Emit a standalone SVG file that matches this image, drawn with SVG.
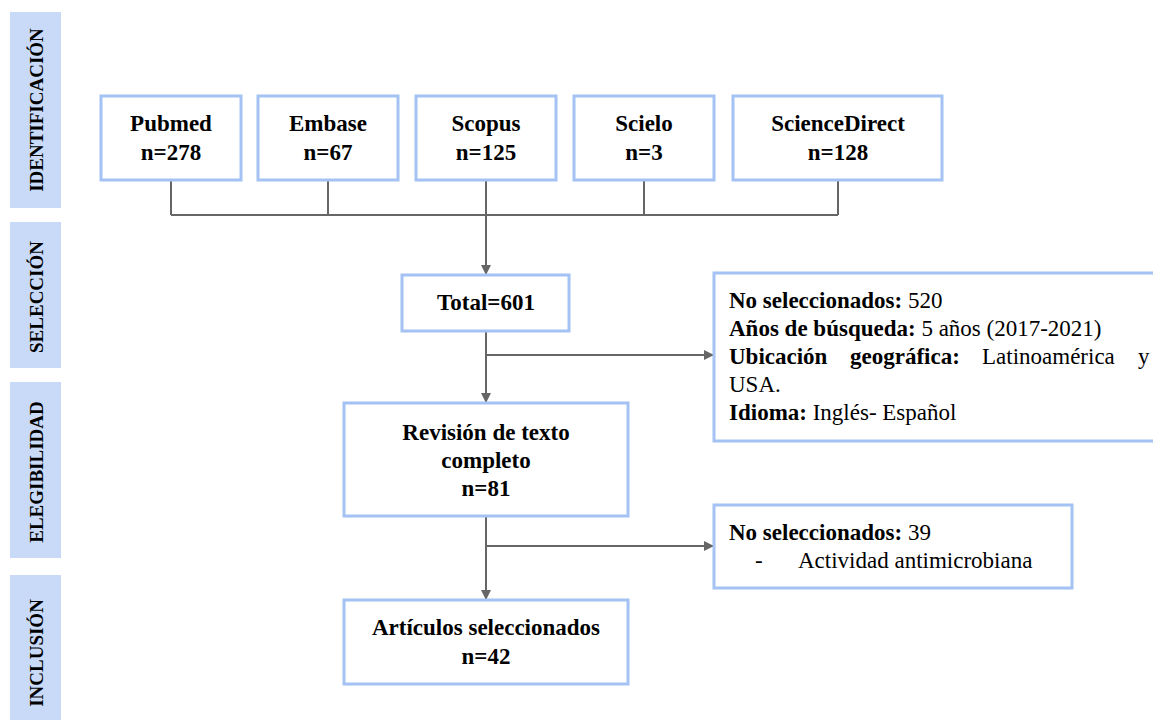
<svg xmlns="http://www.w3.org/2000/svg" width="1153" height="723" viewBox="0 0 1153 723">
<style>
.side{fill:#c9daf8}
.sl{font-family:"Liberation Serif","Times New Roman",serif;font-weight:bold;font-size:19px;fill:#000;text-anchor:middle}
.box{fill:#fff;stroke:#a4c2f4;stroke-width:3}
.t{font-family:"Liberation Serif","Times New Roman",serif;font-weight:bold;font-size:23px;fill:#000;text-anchor:middle}
.r{font-family:"Liberation Serif","Times New Roman",serif;font-size:23px;fill:#000}
.b{font-weight:bold}
.ln{fill:none;stroke:#666;stroke-width:2}
</style>
<defs>
<marker id="ah" markerWidth="10" markerHeight="10" refX="9" refY="5" orient="auto" markerUnits="userSpaceOnUse">
<path d="M0,0 L10,5 L0,10 z" fill="#666"/>
</marker>
</defs>
<rect width="1153" height="723" fill="#fff"/>
<g id="phase-identificacion"><rect class="side" x="10" y="12" width="51" height="196"/><text class="sl" transform="translate(43,110) rotate(-90)">IDENTIFICACIÓN</text></g>
<g id="phase-seleccion"><rect class="side" x="10" y="222" width="51" height="146"/><text class="sl" transform="translate(43,297) rotate(-90)">SELECCIÓN</text></g>
<g id="phase-elegibilidad"><rect class="side" x="10" y="382" width="51" height="176"/><text class="sl" transform="translate(43,472) rotate(-90)">ELEGIBILIDAD</text></g>
<g id="phase-inclusion"><rect class="side" x="10" y="575" width="51" height="145"/><text class="sl" transform="translate(43,653) rotate(-90)">INCLUSIÓN</text></g>

<g id="connectors">
<path class="ln" d="M171,180 V215 M328,180 V215 M644,180 V215 M838,180 V215 M171,215 H838"/>
<path class="ln" d="M486,180 V274" marker-end="url(#ah)"/>
<path class="ln" d="M486,331 V402" marker-end="url(#ah)"/>
<path class="ln" d="M486,355 H713" marker-end="url(#ah)"/>
<path class="ln" d="M486,516 V599" marker-end="url(#ah)"/>
<path class="ln" d="M486,546 H713" marker-end="url(#ah)"/>
</g>

<g id="pubmed"><rect class="box" x="101" y="96" width="140" height="84"/><text class="t" x="171" y="131">Pubmed</text><text class="t" x="171" y="160">n=278</text></g>
<g id="embase"><rect class="box" x="258" y="96" width="140" height="84"/><text class="t" x="328" y="131">Embase</text><text class="t" x="328" y="160">n=67</text></g>
<g id="scopus"><rect class="box" x="416" y="96" width="140" height="84"/><text class="t" x="486" y="131">Scopus</text><text class="t" x="486" y="160">n=125</text></g>
<g id="scielo"><rect class="box" x="574" y="96" width="140" height="84"/><text class="t" x="644" y="131">Scielo</text><text class="t" x="644" y="160">n=3</text></g>
<g id="sciencedirect"><rect class="box" x="733" y="96" width="209" height="84"/><text class="t" x="838" y="131">ScienceDirect</text><text class="t" x="838" y="160">n=128</text></g>

<g id="total"><rect class="box" x="402" y="275" width="167" height="56"/><text class="t" x="486" y="310">Total=601</text></g>

<g id="excluded-1"><rect class="box" x="714" y="273" width="450" height="168"/>
<text class="r" x="729" y="308"><tspan class="b">No seleccionados:</tspan> 520</text>
<text class="r" x="729" y="336"><tspan class="b">Años de búsqueda:</tspan> 5 años (2017-2021)</text>
<text class="r" y="364"><tspan class="b" x="729">Ubicación</tspan><tspan class="b" x="850">geográfica:</tspan><tspan x="982">Latinoamérica</tspan><tspan x="1138">y</tspan></text>
<text class="r" x="729" y="392">USA.</text>
<text class="r" x="729" y="420"><tspan class="b">Idioma:</tspan> Inglés- Español</text>
</g>

<g id="revision"><rect class="box" x="344" y="403" width="284" height="113"/><text class="t" x="486" y="440">Revisión de texto</text><text class="t" x="486" y="468">completo</text><text class="t" x="486" y="496">n=81</text></g>

<g id="excluded-2"><rect class="box" x="714" y="505" width="358" height="83"/>
<text class="r" x="729" y="540"><tspan class="b">No seleccionados:</tspan> 39</text>
<text class="r" x="755" y="568">-</text>
<text class="r" x="798" y="568">Actividad antimicrobiana</text>
</g>

<g id="articulos"><rect class="box" x="344" y="600" width="284" height="84"/><text class="t" x="486" y="635">Artículos seleccionados</text><text class="t" x="486" y="664">n=42</text></g>
</svg>
